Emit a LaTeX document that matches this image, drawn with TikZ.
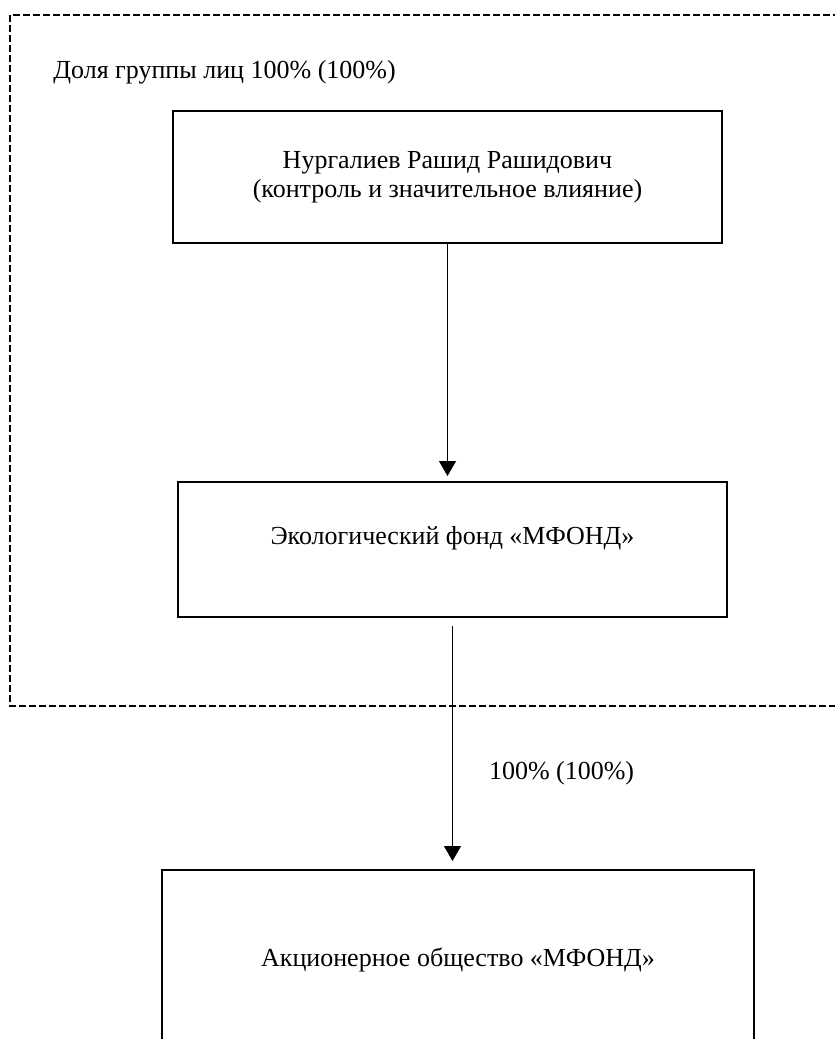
\documentclass[tikz,border=0pt]{standalone}
\usepackage{fontspec}
\setmainfont{Liberation Serif}
\usetikzlibrary{arrows.meta}
\tikzset{
  box/.style={draw, line width=1pt, rectangle, align=center, inner sep=0pt},
  lbl/.style={inner sep=0pt, anchor=west},
  link/.style={line width=0.5pt, -{Triangle[width=8.5pt,length=7.5pt]}}
}
\begin{document}
\begin{tikzpicture}[x=0.5pt,y=-0.5pt,font=\fontsize{13}{14.5}\selectfont]
\useasboundingbox (0,0) rectangle (835,1039);
\draw[line width=1pt, dash pattern=on 3.5pt off 1.5pt] (850,15) -- (10,15) -- (10,706) -- (850,706);

\node[lbl] (grp) at (53,72) {Доля группы лиц 100\% (100\%)};

\node[box, minimum width=274.5pt, minimum height=66pt] (owner) at (447.5,177) {Нургалиев Рашид Рашидович\\(контроль и значительное влияние)};
\node[box, minimum width=274.5pt, minimum height=67.5pt, text height=9pt, text depth=14.5pt] (fund) at (452.5,549.5) {Экологический фонд «МФОНД»};
\node[box, minimum width=296pt, minimum height=90pt] (jsc) at (458,960) {Акционерное общество «МФОНД»};

\draw[link, shorten >=2.5pt] (owner.south) -- (owner.south |- fund.north);
\draw[link, shorten <=4pt, shorten >=4pt] (fund.south) -- (fund.south |- jsc.north) node[pos=0.62, lbl, xshift=18pt] (share) {100\% (100\%)};
\end{tikzpicture}
\end{document}
